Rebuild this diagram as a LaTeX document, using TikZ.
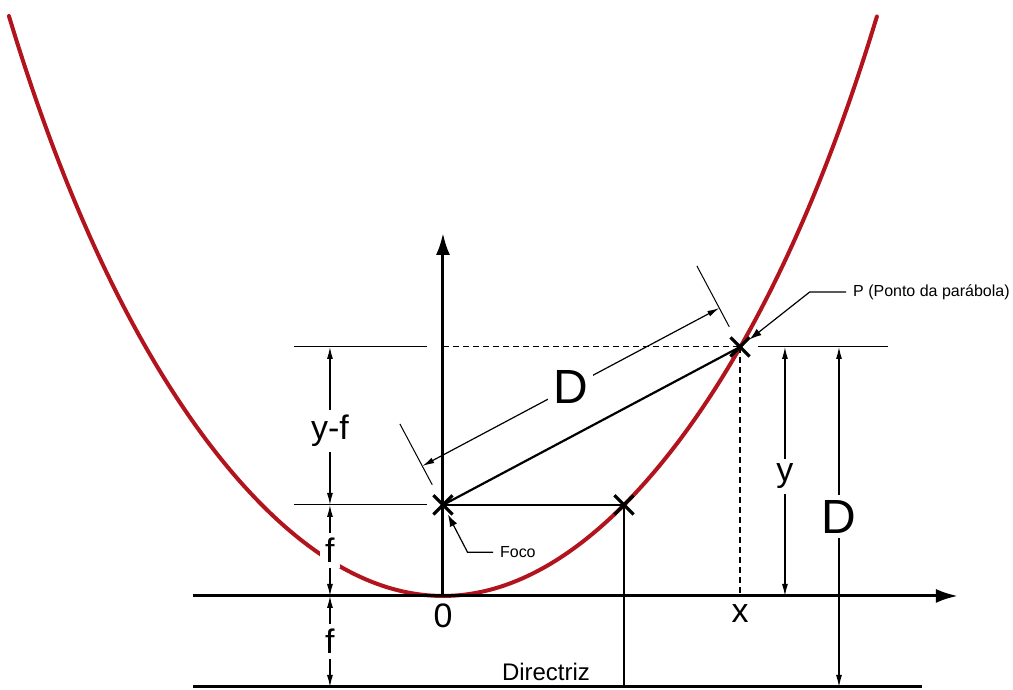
\documentclass[tikz,border=0pt]{standalone}
\usepackage{fontspec}
\setmainfont{Liberation Sans}
\usetikzlibrary{arrows.meta,calc,shapes.misc}
\definecolor{vermelho}{RGB}{178,20,30}

\begin{document}
\begin{tikzpicture}[
  x=1.6cm, y=1.6cm,
  declare function={parab(\t)=0.25379*(\t)^2-0.0005727*(\t)^4+0.00008034*(\t)^6;},
  curva/.style={vermelho, line width=2pt, line cap=round},
  eixo/.style={-{Latex[length=11pt,width=7pt]}, line width=1.5pt},
  linha/.style={line width=1.1pt},
  guia/.style={line width=0.5pt},
  cota/.style={{Latex[length=6pt,width=3pt]}-{Latex[length=6pt,width=3pt]}, line width=0.6pt},
  seta/.style={-{Latex[length=6pt,width=4pt]}, line width=0.6pt},
  rotulo/.style={font=\fontsize{17}{17}\selectfont},
  grande/.style={font=\fontsize{24}{24}\selectfont},
  corte/.style={fill=white, inner sep=2.5pt},
  nota/.style={font=\fontsize{8}{8}\selectfont},
  cruz/.style={cross out, draw, line width=1.6pt, minimum size=8pt, inner sep=0pt}
]
\useasboundingbox (-4.868,-1.033) rectangle (6.264,6.549);
\draw[curva] plot[domain=-4.77:4.77, samples=120, smooth] (\x,{parab(\x)});

\coordinate (O) at (0,0);
\coordinate (xi) at (-2.747,0);
\coordinate (xf) at (5.659,0);
\coordinate (yf) at (0,3.989);
\coordinate (di) at (-2.747,-1);
\coordinate (df) at (5.264,-1);
\coordinate (g1) at (-1.637,0);
\coordinate (g2) at (-0.176,0);
\coordinate (g3) at (3.462,0);
\coordinate (g4) at (4.890,0);
\coordinate (c1) at (-1.242,0);
\coordinate (c2) at (3.758,0);
\coordinate (c3) at (4.352,0);

\draw[eixo] (xi) -- (xf);
\draw[eixo] (O) -- (yf);
\draw[line width=1.5pt] (di) -- (df);

\node[cruz] (F) at (0,1) {};
\node[cruz] (P) at (3.264,2.736) {};
\node[cruz] (L) at (1.989,1) {};

\draw[linha] (F.center) -- (P.center);
\draw[linha] (F.center) -- (L.center);
\draw[linha] (L.center) -- (L |- di);
\draw[guia, densely dashed] (O |- P) -- (P.center);
\draw[guia, densely dashed, line width=0.8pt] (P.center) -- (P |- O);
\draw[guia] (g1 |- P) -- (g2 |- P);
\draw[guia] (g1 |- F) -- (g2 |- F);
\draw[guia] (g3 |- P) -- (g4 |- P);

\draw[cota] (c1 |- F) -- node[rotulo, corte, pos=0.47] {y-f} (c1 |- P);
\draw[cota] (c1) -- node[rotulo, corte] {f} (c1 |- F);
\draw[cota] (c1 |- di) -- node[rotulo, corte] {f} (c1);
\draw[cota] (c2) -- node[rotulo, corte, pos=0.48] {y} (c2 |- P);
\draw[cota] (c3 |- di) -- node[grande, corte] {D} (c3 |- P);

\coordinate (d1) at ($(F.center)!0.131!90:(P.center)$);
\coordinate (d2) at ($(P.center)!0.131!-90:(F.center)$);
\coordinate (e1) at ($(F.center)!0.068!90:(P.center)$);
\coordinate (e2) at ($(F.center)!0.273!90:(P.center)$);
\coordinate (e3) at ($(P.center)!0.068!-90:(F.center)$);
\coordinate (e4) at ($(P.center)!0.273!-90:(F.center)$);
\draw[guia] (e1) -- (e2);
\draw[guia] (e3) -- (e4);
\draw[cota] (d1) -- node[grande, corte] {D} (d2);

\node[rotulo] (zero) at (0,-0.22) {0};
\node[rotulo] (xlab) at (3.264,-0.19) {x};
\node[font=\fontsize{12}{12}\selectfont] (dir) at (1.132,-0.84) {Directriz};

\node[nota, anchor=west] (foco) at (0.55,0.48) {Foco};
\draw[seta] (foco.west) -- ++(-0.28,0) -- (F);
\node[nota, anchor=west] (pp) at (4.43,3.34) {P (Ponto da parábola)};
\draw[seta] (pp.west) -- ++(-0.4,0) -- (P);
\end{tikzpicture}
\end{document}
